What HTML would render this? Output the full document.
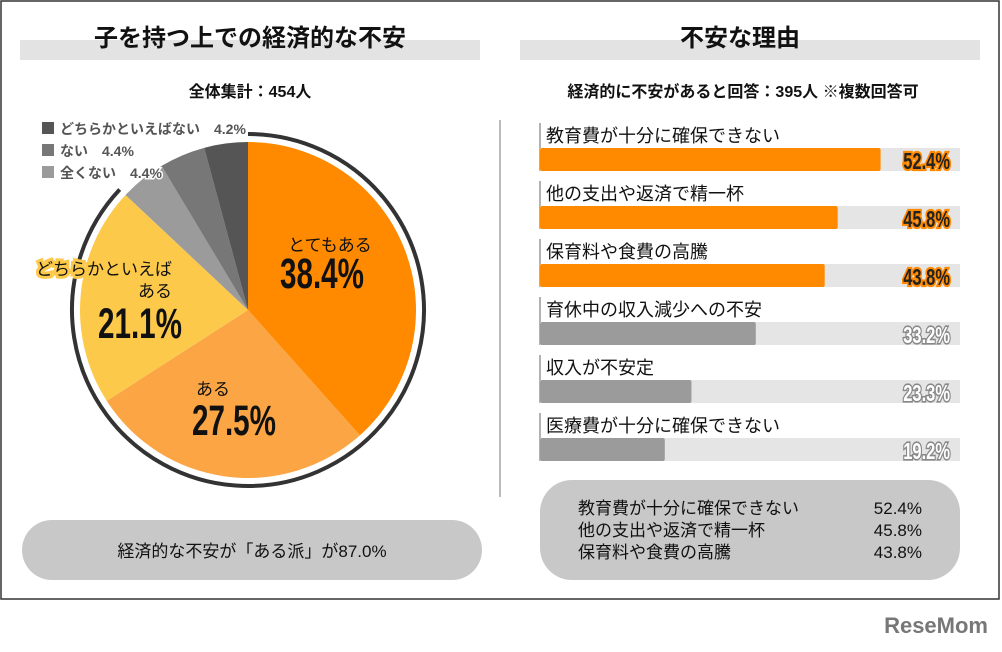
<!DOCTYPE html>
<html><head><meta charset="utf-8">
<style>
html,body{margin:0;padding:0;background:#fff;}
body{width:1002px;height:647px;overflow:hidden;font-family:"Liberation Sans","Noto Sans CJK JP",sans-serif;}
</style></head>
<body>
<svg id="svg" width="1002" height="647" viewBox="0 0 1002 647" xmlns="http://www.w3.org/2000/svg" style="font-family:'Liberation Sans','Noto Sans CJK JP',sans-serif">
<rect x="1" y="1" width="998" height="598" fill="#fff" stroke="#333" stroke-width="1.5"/>
<rect x="20" y="40" width="460" height="20" fill="#e4e3e4"/>
<text x="250" y="46" text-anchor="middle" font-size="24" font-weight="bold" fill="#111">子を持つ上での経済的な不安</text>
<rect x="520" y="40" width="460" height="20" fill="#e4e3e4"/>
<text x="740" y="46" text-anchor="middle" font-size="24" font-weight="bold" fill="#111">不安な理由</text>
<text x="250" y="97" text-anchor="middle" font-size="16" font-weight="bold" fill="#111">全体集計：454人</text>
<text x="743" y="97" text-anchor="middle" font-size="16" font-weight="bold" fill="#111">経済的に不安があると回答：395人 ※複数回答可</text>
<line x1="500" y1="120" x2="500" y2="497" stroke="#bbb" stroke-width="2"/>
<g id="pie"></g>
<g id="legend"></g>
<g id="bars"></g>
<rect x="22" y="520" width="460" height="60" rx="30" fill="#c8c8c8"/>
<text x="252" y="557" text-anchor="middle" font-size="17" fill="#111">経済的な不安が「ある派」が87.0%</text>
<rect x="540" y="480" width="420" height="100" rx="32" fill="#c8c8c8"/>
<g font-size="17" fill="#111">
<text x="578" y="514">教育費が十分に確保できない</text><text x="922" y="514" text-anchor="end">52.4%</text>
<text x="578" y="536">他の支出や返済で精一杯</text><text x="922" y="536" text-anchor="end">45.8%</text>
<text x="578" y="558">保育料や食費の高騰</text><text x="922" y="558" text-anchor="end">43.8%</text>
</g>
<text x="988" y="633" text-anchor="end" font-size="22" font-weight="bold" fill="#777">ReseMom</text>
</svg>
<script>
const pieLabels=["とてもある","ある","どちらかといえばある","全くない","ない","どちらかといえばない"];
const pieValues=[38.4,27.5,21.1,4.4,4.4,4.2];
const pieColors=["#ff8a00","#fba544","#fdc94a","#9b9b9b","#777777","#555555"];
const barLabels=["教育費が十分に確保できない","他の支出や返済で精一杯","保育料や食費の高騰","育休中の収入減少への不安","収入が不安定","医療費が十分に確保できない"];
const barValues=[52.4,45.8,43.8,33.2,23.3,19.2];
const NS="http://www.w3.org/2000/svg";
function mk(t,a,p){const e=document.createElementNS(NS,t);for(const k in a)e.setAttribute(k,a[k]);p.appendChild(e);return e;}
const cx=248,cy=310,r=168;
function pt(deg,rad){const a=(deg-90)*Math.PI/180;return [cx+rad*Math.cos(a),cy+rad*Math.sin(a)];}
const pie=document.getElementById('pie');
const total=pieValues.reduce((a,b)=>a+b,0);
let acc=0;
pieValues.forEach((v,i)=>{
  const s=acc/total*360,e=(acc+v)/total*360;acc+=v;
  const [x1,y1]=pt(s,r),[x2,y2]=pt(e,r);
  const p=mk('path',{d:`M${cx},${cy} L${x1},${y1} A${r},${r} 0 ${e-s>180?1:0} 1 ${x2},${y2} Z`,fill:pieColors[i]},pie);
  
  
});
const posSum=pieValues[0]+pieValues[1]+pieValues[2];
const ringEnd=posSum/total*360;
const [ax,ay]=pt(0,176),[bx,by]=pt(ringEnd,176);
const ring=mk('path',{d:`M${ax},${ay} A176,176 0 1 1 ${bx},${by}`,fill:'none',stroke:'#333','stroke-width':4},pie);


function txt(x,y,s,sz,anchor,parent,name,extra){const t=mk('text',Object.assign({x:x,y:y,'font-size':sz,'font-weight':'bold','text-anchor':anchor,fill:'#111'},extra||{}),parent);t.textContent=s;return t;}
function big(x,y,s,parent,name,sz,extra){const t=mk('text',Object.assign({x:0,y:0,'font-size':sz,'font-weight':'bold','text-anchor':'middle',fill:'#111',transform:`translate(${x},${y}) scale(0.78,1.12)`},extra||{}),parent);t.textContent=s;return t;}
txt(330,251,pieLabels[0],17,'middle',pie,'slice-label-1',{'font-weight':'normal'});
big(322,288,pieValues[0].toFixed(1)+'%',pie,'slice-value-1',38);
txt(213,395,pieLabels[1],17,'middle',pie,'slice-label-2',{'font-weight':'normal'});
big(234,435,pieValues[1].toFixed(1)+'%',pie,'slice-value-2',38);
txt(172,275,'どちらかといえば',17,'end',pie,'slice-label-3a',{'font-weight':'normal',stroke:'#fdc94a','stroke-width':6,'paint-order':'stroke'});
txt(172,297,'ある',17,'end',pie,'slice-label-3b',{'font-weight':'normal'});
big(140,338,pieValues[2].toFixed(1)+'%',pie,'slice-value-3',38);
const lg=document.getElementById('legend');
const legOrder=[5,4,3];
legOrder.forEach((idx,j)=>{
  const y=128+j*22;
  const sq=mk('rect',{x:42,y:y-6,width:12,height:12,fill:pieColors[idx]},lg);
  
  
  txt(60,y+6,pieLabels[idx]+'　'+pieValues[idx].toFixed(1)+'%',14,'start',lg,'legend-entry-'+(j+1),{fill:'#555',stroke:'#fff','stroke-width':3,'paint-order':'stroke'});
});
const bars=document.getElementById('bars');
const x0=540,pxPer=6.5,trackEnd=960,y0=148,step=58,bh=23;
barLabels.forEach((l,i)=>{
  const y=y0+i*step, hi=i<3;
  const ln=mk('line',{x1:x0,y1:y-25,x2:x0,y2:y+bh,stroke:'#999','stroke-width':1.5},bars);
  
  
  txt(x0+6,y-6,l,18,'start',bars,'bar-label-'+(i+1),{'font-weight':'normal'});
  const tr=mk('rect',{x:x0,y:y,width:trackEnd-x0,height:bh,fill:'#e6e5e6'},bars);
  
  
  const b=mk('rect',{x:x0,y:y,width:barValues[i]*pxPer,height:bh,fill:hi?'#ff8a00':'#9b9b9b',rx:2},bars);
  
  
  const t=mk('text',{x:0,y:0,'font-size':22,'font-weight':'bold','text-anchor':'end',fill:hi?'#222':'#fff',stroke:hi?'#ff8a00':'#888','stroke-width':hi?4:3,'paint-order':'stroke',transform:`translate(950,${y+21}) scale(0.75,1.05)`},bars);
  t.textContent=barValues[i].toFixed(1)+'%';
  
  
});
</script>
</body></html>
